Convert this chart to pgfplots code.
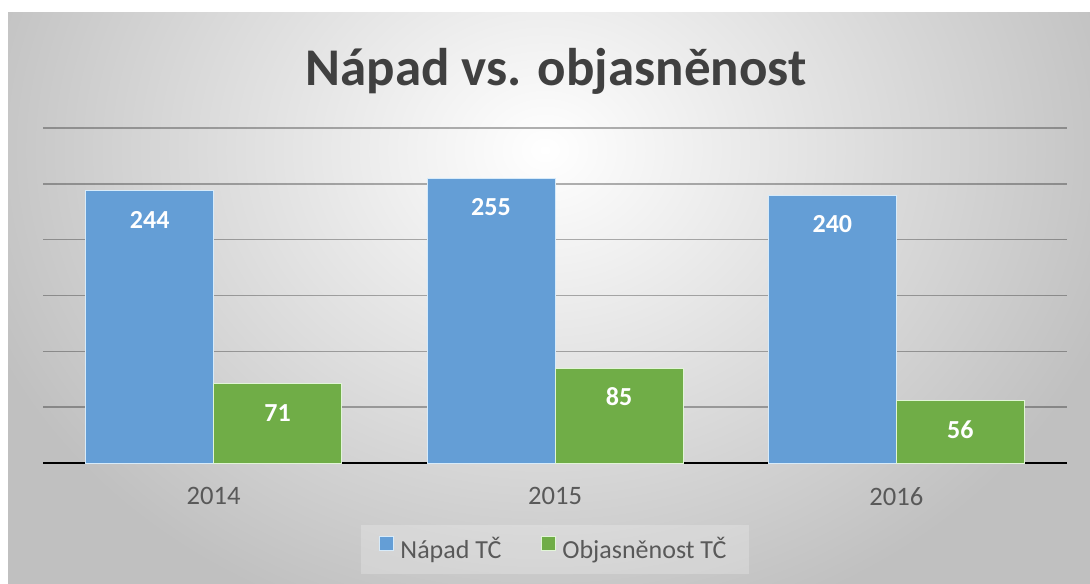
\documentclass[border=0pt]{standalone}
\usepackage{fontspec}
\setmainfont{Carlito}
\usepackage{pgfplots}
\pgfplotsset{compat=1.18}
\definecolor{barblue}{RGB}{100,158,214}
\definecolor{bargreen}{RGB}{112,173,71}
\definecolor{edgeblue}{RGB}{215,235,250}
\definecolor{edgegreen}{RGB}{225,245,215}
\definecolor{bgout}{RGB}{192,192,192}
\definecolor{titlegray}{RGB}{64,64,64}
\definecolor{labelgray}{RGB}{89,89,89}
\definecolor{baseline}{RGB}{64,64,64}
\begin{document}
\begin{tikzpicture}
\fill[white] (0pt,0pt) rectangle (545pt,-291.5pt);
\begin{scope}
\clip (4pt,-6.5pt) rectangle (545pt,-291.5pt);
\shade[inner color=white, outer color=bgout] (-27.5pt,175pt) rectangle (572.5pt,-325pt);
\end{scope}
\node[anchor=base, text=titlegray, font=\bfseries\fontsize{26.5}{32}\selectfont] at (278pt,-42.5pt) {Nápad vs. objasněnost};
\begin{axis}[
  at={(21.5pt,-231.5pt)}, anchor=south west,
  scale only axis, width=512pt, height=167.5pt,
  xmin=-0.5, xmax=2.5, ymin=0, ymax=300,
  /pgf/number format/assume math mode=true,
  axis line style={draw=none},
  major tick length=0pt,
  xtick={0,1,2}, xticklabels={2014,2015,2016},
  xticklabel style={anchor=north, inner sep=0pt, yshift=-12pt, text=labelgray, font=\fontsize{13.3}{16}\selectfont},
  ytick={50,100,...,300}, yticklabels={},
  ymajorgrids,
  grid style={black, opacity=0.3, line width=0.8pt},
  extra y ticks={0}, extra y tick labels={},
  extra y tick style={grid style={baseline, opacity=1, line width=1.4pt}},
  legend columns=2,
  legend cell align=left,
  legend style={at={(0.5,-0.258)}, anchor=center, draw=none, fill=white, fill opacity=0.22, text opacity=1,
    text=labelgray, font=\fontsize{13}{16}\selectfont, inner xsep=9pt, inner ysep=4pt,
    column sep=0pt, /tikz/every odd column/.append style={column sep=1pt},
    /tikz/every even column/.append style={column sep=18pt}},
  legend image code/.code={\fill[#1, fill opacity=1] (0pt,-0.5pt) rectangle (7pt,6.5pt);},
]
\addplot[ybar, bar width=0.375, bar shift=-0.1875, fill=barblue, draw=edgeblue, line width=0.5pt,
  nodes near coords, nodes near coords style={anchor=center, xshift=-32pt, yshift=-14.5pt, text=white, font=\bfseries\fontsize{13}{15}\selectfont}]
  coordinates {(0,244) (1,255) (2,240)};
\addlegendentry{Nápad TČ}
\addplot[ybar, bar width=0.375, bar shift=0.1875, fill=bargreen, draw=edgegreen, line width=0.5pt,
  nodes near coords, nodes near coords style={anchor=center, xshift=32pt, yshift=-14.5pt, text=white, font=\bfseries\fontsize{13}{15}\selectfont}]
  coordinates {(0,71) (1,85) (2,56)};
\addlegendentry{Objasněnost TČ}
\end{axis}
\end{tikzpicture}
\end{document}
